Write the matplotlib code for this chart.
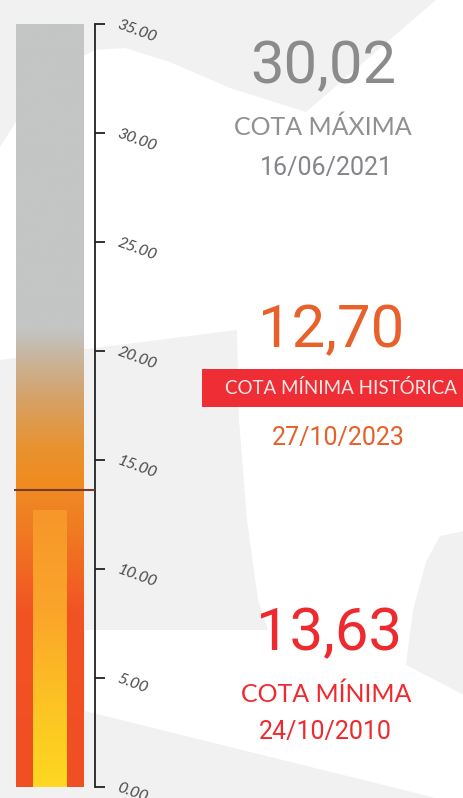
import numpy as np
import matplotlib
matplotlib.use("Agg")
import matplotlib.pyplot as plt
from matplotlib.patches import Polygon, Rectangle
from matplotlib.colors import LinearSegmentedColormap

# dados
escala_max = 35.0
cota_maxima = 30.02
data_maxima = "16/06/2021"
cota_min_hist = 12.70
data_min_hist = "27/10/2023"
cota_minima = 13.63
data_minima = "24/10/2010"
ticks = [0, 5, 10, 15, 20, 25, 30, 35]
tick_labels = ["0.00", "5.00", "10.00", "15.00", "20.00", "25.00", "30.00", "35.00"]

W, H = 464, 798
fig = plt.figure(figsize=(W / 100, H / 100), dpi=100)
fig.patch.set_facecolor("white")


def px(x, y):
    return (x / W, 1 - y / H)


# formas cinza do fundo
bg = "#f1f1f1"
shapes = [
    [(0, 0), (436, 0), (306, 112), (230, 88), (170, 62), (125, 48), (95, 50), (60, 68), (30, 100), (0, 147)],
    [(0, 360), (237, 330), (239, 420), (247, 520), (258, 600), (268, 630), (85, 630), (85, 798), (0, 798)],
    [(85, 711), (464, 805), (85, 805)],
    [(464, 531), (440, 536), (426, 562), (413, 610), (406, 665), (464, 695)],
]
for s in shapes:
    fig.add_artist(Polygon([px(*p) for p in s], closed=True, facecolor=bg,
                           edgecolor="none", transform=fig.transFigure, zorder=0))

# eixo da régua
ax = fig.add_axes([10 / W, (H - 787) / H, 85 / W, 763 / H])
ax.set_facecolor("none")
ax.set_xlim(0, 85)
ax.set_ylim(0, escala_max)

# barra de fundo (cinza -> laranja)
cm_fundo = LinearSegmentedColormap.from_list("fundo", [
    (0.0, "#ef8a1f"), (14.0 / 35, "#ef8c20"), (15.5 / 35, "#e9922e"),
    (18.0 / 35, "#d4a36c"), (20.0 / 35, "#c6b8a6"), (21.0 / 35, "#c4c5c5"), (1.0, "#c4c5c5")])
grad = np.linspace(0, 1, 256).reshape(-1, 1)
ax.imshow(grad, cmap=cm_fundo, origin="lower", aspect="auto",
          extent=[6, 74, 0, escala_max], zorder=1)

# barra cota mínima
cm_min = LinearSegmentedColormap.from_list("mini", [
    (0.0, "#f04e23"), (8.0 / cota_minima, "#f25323"), (11.7 / cota_minima, "#f07a22"), (1.0, "#ef8a24")])
ax.imshow(grad, cmap=cm_min, origin="lower", aspect="auto",
          extent=[6, 74, 0, cota_minima], zorder=2)

# barra cota mínima histórica
cm_hist = LinearSegmentedColormap.from_list("hist", [
    (0.0, "#fed821"), (4.0 / cota_min_hist, "#fcc224"), (8.0 / cota_min_hist, "#fba52a"), (1.0, "#f7962a")])
ax.imshow(grad, cmap=cm_hist, origin="lower", aspect="auto",
          extent=[23, 57, 0, cota_min_hist], zorder=3)

ax.plot([4, 85], [cota_minima, cota_minima], color="#7a3a2c", lw=1.5, zorder=4,
        solid_capstyle="butt")

for sp in ["left", "top", "bottom"]:
    ax.spines[sp].set_visible(False)
ax.spines["right"].set_color("#222222")
ax.spines["right"].set_linewidth(1.3)
ax.set_xticks([])
ax.yaxis.tick_right()
ax.set_yticks(ticks)
ax.set_yticklabels(tick_labels)
ax.tick_params(axis="y", direction="out", length=7.5, width=1.3, color="#222222",
               pad=9, labelsize=11.5, labelcolor="#4a4a4a")
for lab in ax.get_yticklabels():
    lab.set_rotation(-20)
    lab.set_rotation_mode("anchor")
    lab.set_ha("left")
    lab.set_va("center")
    lab.set_fontstyle("italic")
    lab.set_family(["Lato", "DejaVu Sans"])

# textos à direita
num = ["Roboto", "DejaVu Sans"]
leve = ["Lato", "DejaVu Sans"]


def txt(x, y, s, size, color, fam, weight="normal"):
    fig.text(*px(x, y), s, fontsize=size, color=color, family=fam, weight=weight,
             ha="center", va="baseline")


txt(323, 83, f"{cota_maxima:.2f}".replace(".", ","), 43, "#8a8b8c", num)
txt(323, 135, "COTA MÁXIMA", 18, "#8f9092", leve)
txt(326, 175, data_maxima, 18, "#85868a", num)

txt(331, 347, f"{cota_min_hist:.2f}".replace(".", ","), 43, "#e8612b", num)
fig.add_artist(Rectangle(px(202, 407), 262 / W, 38 / H, facecolor="#ee2d35",
                         edgecolor="none", transform=fig.transFigure, zorder=1))
txt(341, 394, "COTA MÍNIMA HISTÓRICA", 13.5, "#fde8e8", leve)
txt(338, 445, data_min_hist, 18, "#e5602b", num)

txt(329, 650, f"{cota_minima:.2f}".replace(".", ","), 43, "#ee2a2f", num)
txt(326, 702, "COTA MÍNIMA", 18, "#ee2a2f", leve)
txt(325, 739, data_minima, 18, "#ee2a2f", num)

fig.savefig("out.png", dpi=100)
